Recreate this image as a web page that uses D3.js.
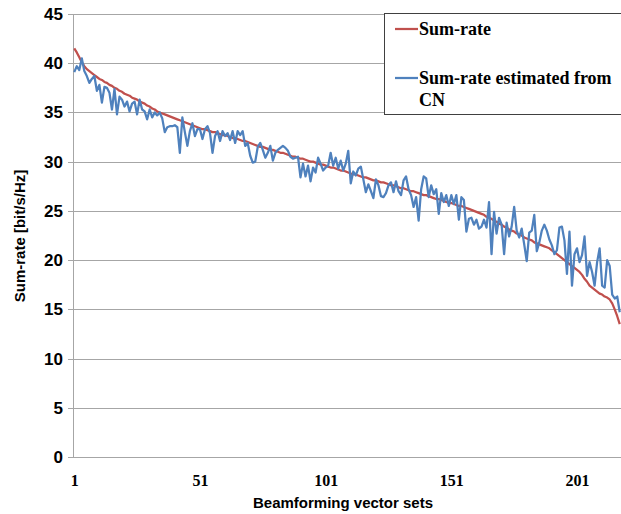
<!DOCTYPE html>
<html>
<head>
<meta charset="utf-8">
<script src="https://cdn.jsdelivr.net/npm/d3@7/dist/d3.min.js"></script>
<style>
html,body{margin:0;padding:0;background:#fff;}
svg{display:block;}
</style>
</head>
<body>
<svg id="chart" width="621" height="514"></svg>
<script>
// ---- Data ----
const yTicks = [0, 5, 10, 15, 20, 25, 30, 35, 40, 45];
const xTickLabels = [1, 51, 101, 151, 201];
const seriesNames = ["Sum-rate", "Sum-rate estimated from CN"];

const sumRate = [
41.5,41.1,40.6,40.1,39.7,39.4,39.2,39.0,38.8,38.6,
38.4,38.3,38.1,38.0,37.8,37.7,37.5,37.4,37.2,37.1,
36.9,36.8,36.7,36.5,36.4,36.3,36.1,36.0,35.9,35.7,
35.6,35.4,35.3,35.1,35.0,34.9,34.8,34.7,34.6,34.5,
34.4,34.3,34.2,34.1,34.0,33.9,33.8,33.7,33.6,33.5,
33.4,33.3,33.3,33.2,33.1,33.0,33.0,32.9,32.8,32.7,
32.7,32.6,32.5,32.4,32.4,32.3,32.2,32.1,32.1,32.0,
31.9,31.8,31.7,31.6,31.5,31.5,31.4,31.3,31.2,31.2,
31.1,31.0,30.9,30.9,30.8,30.7,30.6,30.5,30.5,30.4,
30.3,30.3,30.2,30.1,30.0,30.0,29.9,29.8,29.7,29.7,
29.6,29.5,29.4,29.4,29.3,29.2,29.1,29.1,29.0,28.9,
28.8,28.7,28.7,28.6,28.5,28.4,28.4,28.3,28.2,28.1,
28.1,28.0,27.9,27.9,27.8,27.7,27.6,27.6,27.5,27.4,
27.3,27.3,27.2,27.1,27.0,27.0,26.9,26.8,26.7,26.6,
26.6,26.5,26.4,26.3,26.2,26.2,26.1,26.0,25.9,25.8,
25.8,25.7,25.6,25.5,25.5,25.4,25.3,25.2,25.1,25.0,
24.9,24.8,24.7,24.6,24.4,24.3,24.2,24.0,23.9,23.7,
23.6,23.4,23.3,23.1,23.0,22.9,22.7,22.6,22.5,22.3,
22.2,22.1,22.0,21.8,21.7,21.6,21.5,21.4,21.3,21.2,
21.0,20.8,20.6,20.4,20.2,20.0,19.8,19.6,19.4,19.2,
19.0,18.8,18.5,18.1,17.8,17.4,17.2,17.0,16.8,16.6,
16.5,16.3,16.2,16.0,15.6,15.0,14.3,13.5
];

const sumRateCN = [
39.1,39.7,39.3,40.5,39.2,38.7,38.0,38.4,38.7,37.2,
37.8,36.0,37.6,37.5,37.0,35.3,37.4,34.8,36.6,36.3,
35.6,36.1,35.1,35.9,36.1,34.8,36.3,35.3,35.1,34.3,
35.3,34.5,35.0,34.7,35.0,34.4,33.0,33.5,33.6,33.6,
33.7,33.5,30.9,34.5,33.0,31.6,33.1,33.9,32.6,33.3,
33.3,32.3,33.3,33.6,32.9,30.9,32.6,33.1,32.1,33.1,
32.6,32.9,32.2,33.1,31.9,33.1,32.7,33.1,31.6,31.9,
30.6,29.9,30.0,31.5,31.9,31.2,30.4,30.9,31.6,30.1,
30.9,31.2,31.4,31.6,31.4,31.1,30.5,30.3,30.4,30.5,
28.4,29.8,28.5,29.6,28.0,29.4,28.9,30.4,29.8,29.1,
29.4,29.6,30.9,29.6,30.4,29.3,30.1,29.1,29.8,31.1,
27.8,29.0,28.6,29.3,29.5,28.2,26.9,27.7,27.0,26.3,
28.2,27.6,26.5,26.4,26.8,27.6,27.9,26.9,28.0,27.0,
26.6,28.1,28.5,27.2,26.6,25.4,26.4,24.0,27.2,28.5,
28.3,26.4,27.6,26.7,27.2,24.7,26.8,25.9,26.6,25.5,
26.6,25.7,26.6,24.1,26.4,26.1,22.9,24.2,24.3,23.6,
24.1,23.2,23.4,24.1,23.3,25.9,20.6,24.9,22.7,24.3,
23.6,20.6,23.8,22.4,23.4,25.4,23.0,22.3,23.2,21.6,
19.9,22.8,23.0,24.6,20.9,21.8,23.0,23.6,23.0,22.1,
21.5,20.6,21.0,23.3,23.4,22.0,18.6,22.9,17.4,20.6,
21.2,19.8,20.5,22.4,18.4,19.8,18.8,17.4,19.8,21.2,
17.4,17.2,20.0,19.4,16.5,16.1,16.3,14.7
];

const colors = ["#c0504d", "#4f81bd"];

// ---- Layout ----
const plot = {left: 73, right: 621, top: 14, bottom: 457};
const svg = d3.select("#chart");

const n = sumRate.length;
const x = d3.scaleLinear().domain([0.5, n + 0.5]).range([plot.left, plot.right]);
const y = d3.scaleLinear().domain([0, 45]).range([plot.bottom, plot.top]);

// gridlines + y ticks
const yAxis = d3.axisLeft(y).tickValues(yTicks).tickSize(-(plot.right - plot.left + 5)).tickPadding(10).tickSizeOuter(0);
const gy = svg.append("g").attr("transform", `translate(${plot.left - 5},0)`).call(yAxis);
gy.select(".domain").remove();
gy.selectAll(".tick line").attr("stroke", "#a6a6a6").attr("stroke-width", 1).attr("shape-rendering", "crispEdges");
gy.selectAll(".tick text")
  .attr("font-family", "'Liberation Sans', sans-serif")
  .attr("font-weight", "bold")
  .attr("font-size", 17)
  .attr("fill", "#000")
  .attr("dx", 5);

// vertical axis line
svg.append("line")
  .attr("x1", plot.left).attr("x2", plot.left)
  .attr("y1", plot.top).attr("y2", plot.bottom)
  .attr("stroke", "#a6a6a6").attr("stroke-width", 1).attr("shape-rendering", "crispEdges");

// x tick labels
const xAxis = d3.axisBottom(x).tickValues(xTickLabels).tickSize(0).tickPadding(18).tickFormat(d3.format("d"));
const gx = svg.append("g").attr("transform", `translate(0,${plot.bottom})`).call(xAxis);
gx.select(".domain").remove();
gx.selectAll(".tick text")
  .attr("font-family", "'Liberation Serif', serif")
  .attr("font-weight", "bold")
  .attr("font-size", 16)
  .attr("fill", "#000");

// lines
const line = d3.line().x((d, i) => x(i + 1)).y(d => y(d));
[sumRate, sumRateCN].forEach((s, k) => {
  svg.append("path")
    .datum(s)
    .attr("fill", "none")
    .attr("stroke", colors[k])
    .attr("stroke-width", 2.25)
    .attr("stroke-linejoin", "round")
    .attr("d", line);
});

// axis titles
svg.append("text")
  .attr("x", 343).attr("y", 508)
  .attr("text-anchor", "middle")
  .attr("font-family", "'Liberation Sans', sans-serif")
  .attr("font-weight", "bold")
  .attr("font-size", 15)
  .attr("fill", "#000")
  .text("Beamforming vector sets");

svg.append("text")
  .attr("transform", `translate(25,236) rotate(-90)`)
  .attr("text-anchor", "middle")
  .attr("font-family", "'Liberation Sans', sans-serif")
  .attr("font-weight", "bold")
  .attr("font-size", 15)
  .attr("fill", "#000")
  .text("Sum-rate [bit/s/Hz]");

// legend
const lg = svg.append("g");
lg.append("rect")
  .attr("x", 384.5).attr("y", 13.5)
  .attr("width", 250).attr("height", 101)
  .attr("fill", "#fff")
  .attr("stroke", "#404040").attr("stroke-width", 1);
const legendRows = [
  {name: seriesNames[0], lines: ["Sum-rate"], ly: 29},
  {name: seriesNames[1], lines: ["Sum-rate estimated from", "CN"], ly: 78}
];
legendRows.forEach((r, k) => {
  lg.append("line")
    .attr("x1", 395).attr("x2", 418)
    .attr("y1", r.ly).attr("y2", r.ly)
    .attr("stroke", colors[k]).attr("stroke-width", 2.25);
  const t = lg.append("text")
    .attr("x", 419).attr("y", r.ly + 6)
    .attr("font-family", "'Liberation Serif', serif")
    .attr("font-weight", "bold")
    .attr("font-size", 18)
    .attr("fill", "#000");
  r.lines.forEach((s, j) => {
    t.append("tspan").attr("x", 419).attr("dy", j === 0 ? 0 : 22).text(s);
  });
});
</script>
</body>
</html>
